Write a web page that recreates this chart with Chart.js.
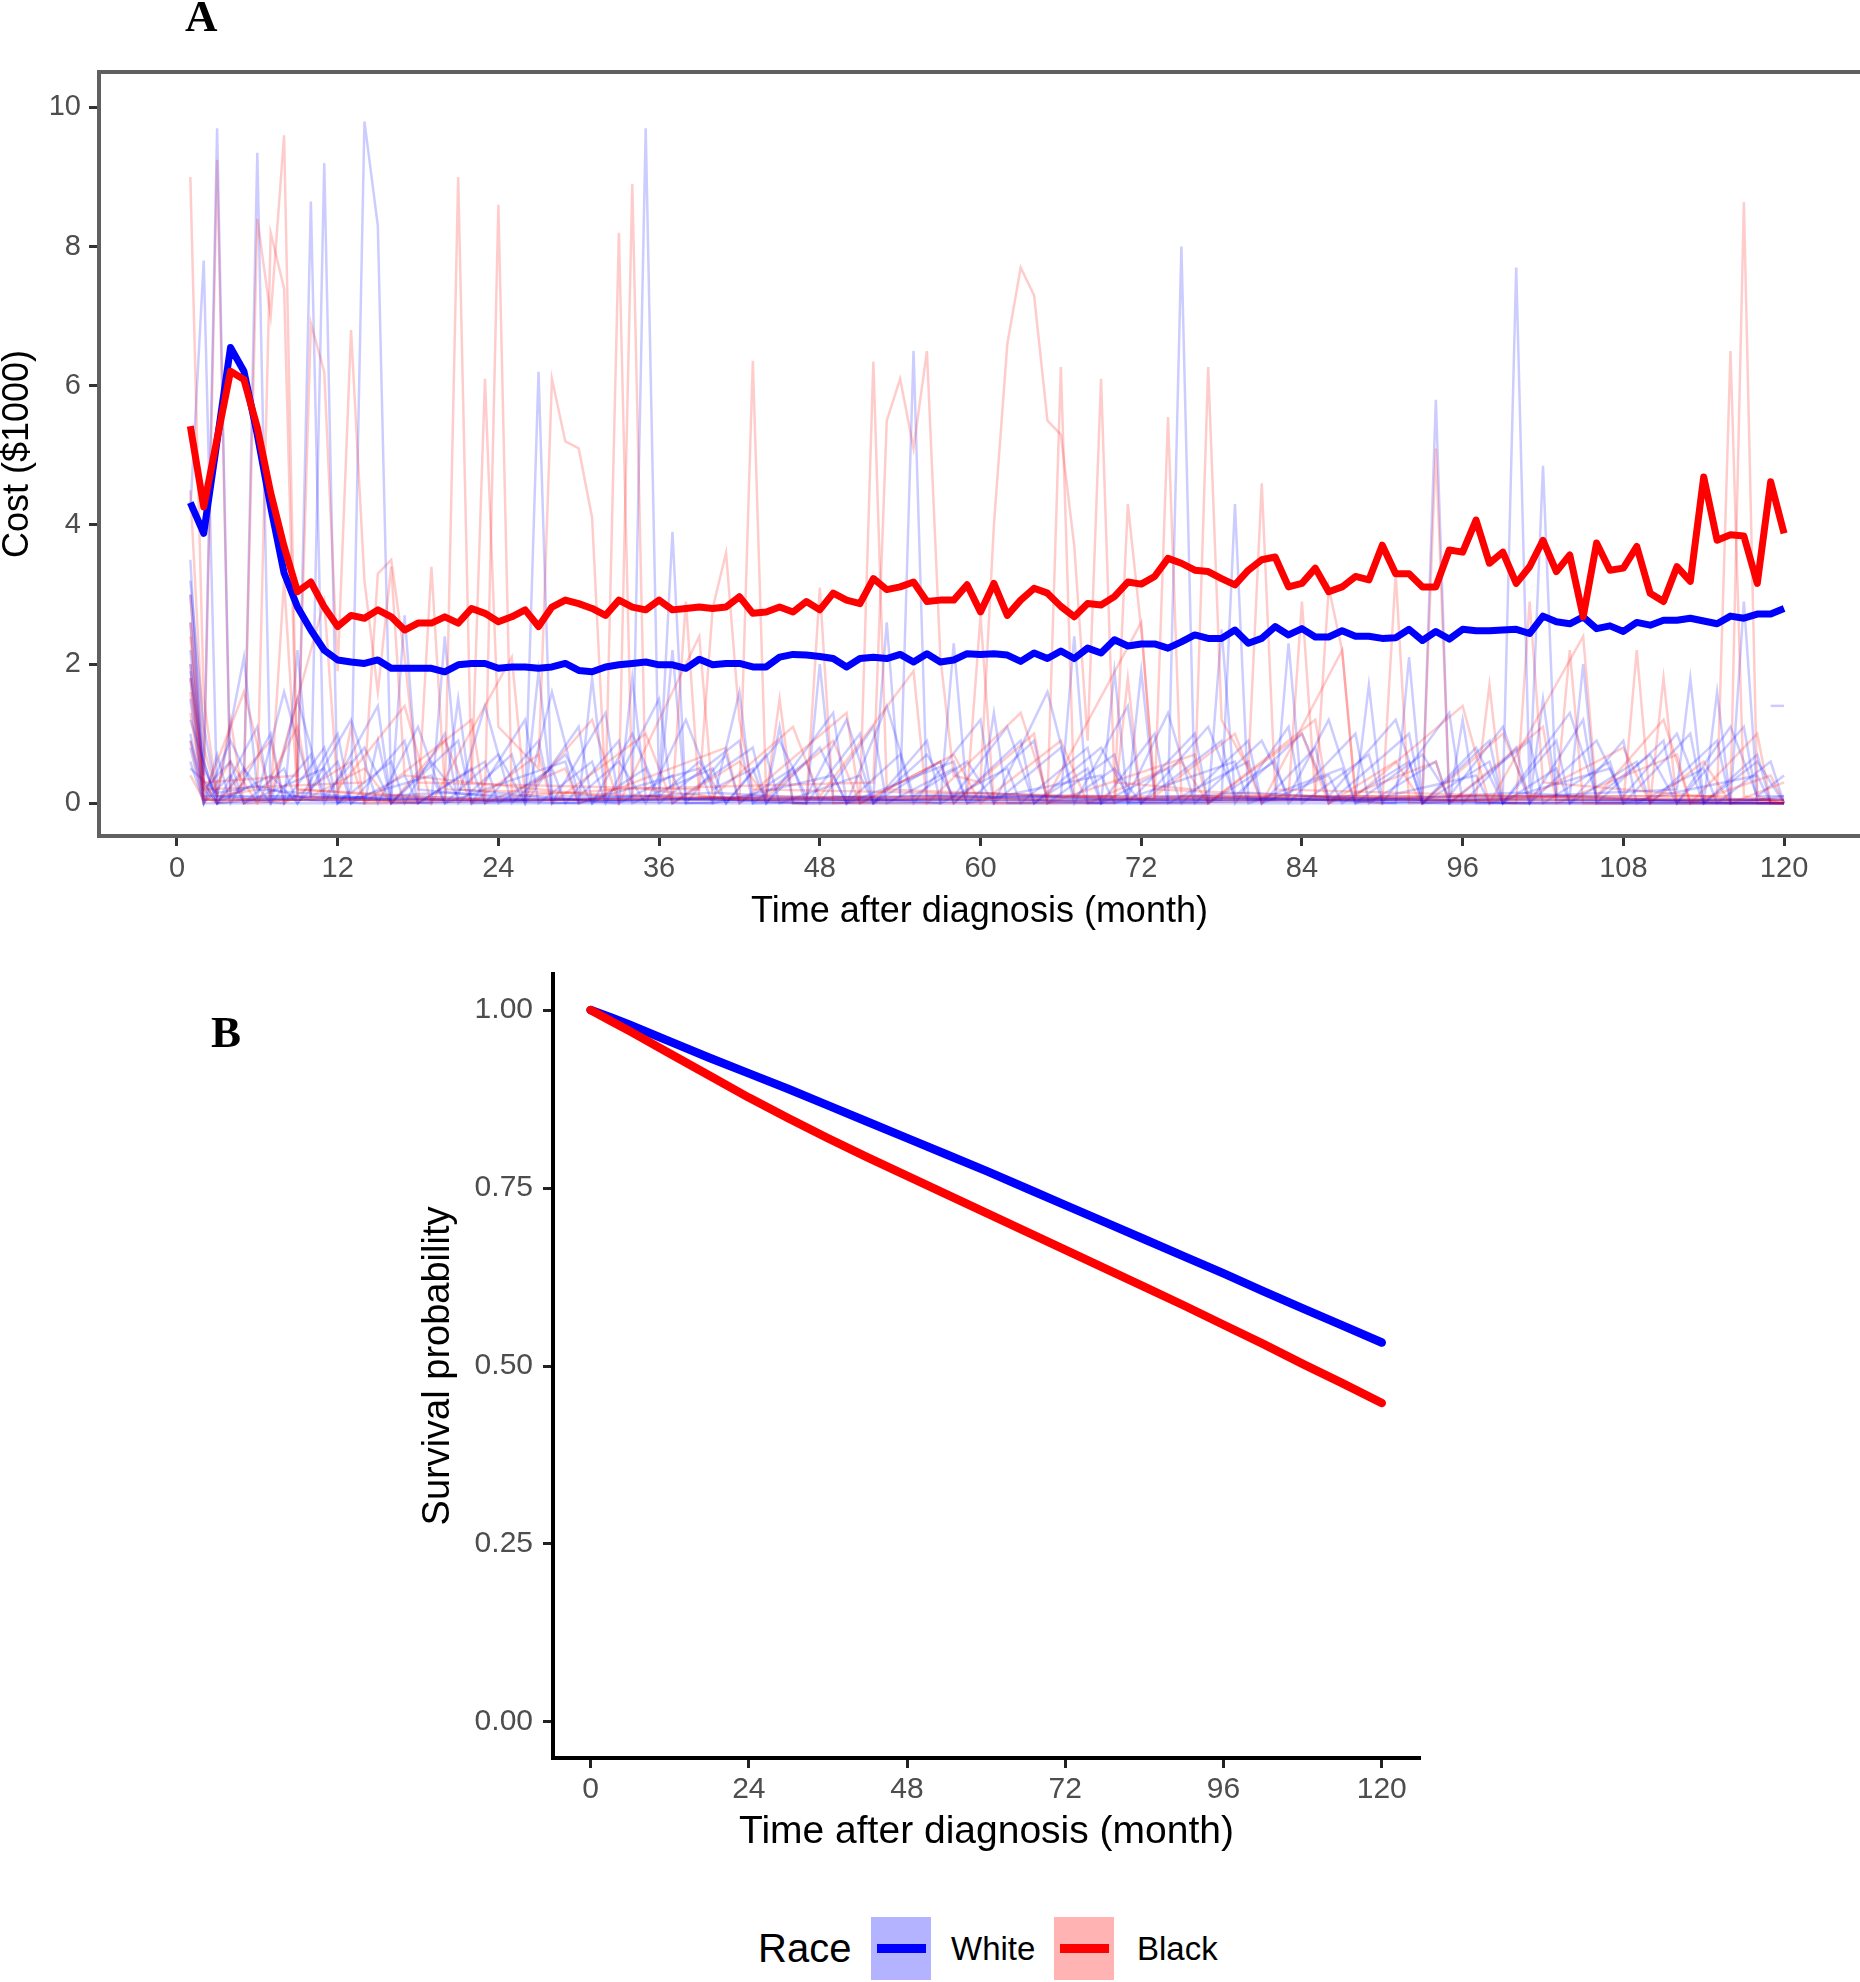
<!DOCTYPE html>
<html><head><meta charset="utf-8">
<script src="https://cdn.jsdelivr.net/npm/chart.js@4"></script>
<style>
html,body{margin:0;padding:0;background:#fff;overflow:hidden;width:1860px;height:1982px;position:relative;}
#cA{position:absolute;left:0;top:0;}
#cB{position:absolute;left:0;top:940px;}
.lbl{position:absolute;font-family:"Liberation Serif","DejaVu Serif",serif;font-weight:bold;font-size:45px;line-height:1;color:#000;}
.leg{position:absolute;font-family:"Liberation Sans",Arial,sans-serif;color:#000;line-height:1;white-space:nowrap;}
.key{position:absolute;width:60px;height:63px;top:1917px;}
.key i{position:absolute;left:6px;width:49px;height:9px;top:27px;}
</style></head><body>
<canvas id="cA" width="1860" height="930"></canvas>
<canvas id="cB" width="1860" height="912"></canvas>
<div class="lbl" style="left:185px;top:-6px">A</div>
<div class="lbl" style="left:211px;top:1010px">B</div>
<div class="leg" style="left:758px;top:1928px;font-size:40px">Race</div>
<div class="key" style="left:871px;background:#b3b3ff"><i style="background:#0000ff"></i></div>
<div class="leg" style="left:951px;top:1932px;font-size:33px">White</div>
<div class="key" style="left:1054px;background:#ffb3b3"><i style="background:#ff0000"></i></div>
<div class="leg" style="left:1137px;top:1932px;font-size:33px">Black</div>
<script>
// ---------- Panel A data ----------
const months = [1,2,3,4,5,6,7,8,9,10,11,12,13,14,15,16,17,18,19,20,21,22,23,24,25,26,27,28,29,30,
31,32,33,34,35,36,37,38,39,40,41,42,43,44,45,46,47,48,49,50,51,52,53,54,55,56,57,58,59,60,
61,62,63,64,65,66,67,68,69,70,71,72,73,74,75,76,77,78,79,80,81,82,83,84,85,86,87,88,89,90,
91,92,93,94,95,96,97,98,99,100,101,102,103,104,105,106,107,108,109,110,111,112,113,114,115,116,117,118,119,120];

const whiteMean = [4.32,3.88,5.21,6.55,6.21,5.3,4.26,3.31,2.82,2.49,2.2,2.06,2.03,2.01,2.06,1.94,1.94,1.94,1.94,1.89,1.99,2.01,2.01,1.94,1.96,1.96,1.94,1.96,2.01,1.91,
1.89,1.96,1.99,2.01,2.03,1.99,1.99,1.94,2.07,1.99,2.01,2.01,1.96,1.96,2.1,2.14,2.13,2.11,2.08,1.96,2.08,2.1,2.08,2.14,2.03,2.15,2.03,2.06,2.15,2.14,
2.15,2.13,2.04,2.16,2.08,2.19,2.08,2.23,2.16,2.35,2.26,2.29,2.29,2.23,2.32,2.42,2.37,2.37,2.49,2.3,2.37,2.54,2.42,2.51,2.39,2.39,2.48,2.4,2.4,2.37,
2.38,2.5,2.34,2.47,2.36,2.5,2.48,2.48,2.49,2.5,2.44,2.69,2.61,2.58,2.68,2.51,2.55,2.47,2.6,2.56,2.63,2.63,2.66,2.62,2.58,2.69,2.66,2.72,2.72,2.8];

const blackMean = [5.42,4.26,5.24,6.21,6.09,5.4,4.46,3.69,3.04,3.18,2.82,2.54,2.7,2.66,2.78,2.68,2.49,2.59,2.59,2.68,2.59,2.8,2.73,2.61,2.68,2.78,2.54,2.82,2.92,2.87,
2.8,2.7,2.92,2.82,2.78,2.92,2.78,2.8,2.82,2.8,2.82,2.97,2.73,2.75,2.82,2.75,2.9,2.78,3.02,2.92,2.87,3.23,3.07,3.11,3.18,2.9,2.92,2.92,3.14,2.75,
3.16,2.7,2.92,3.09,3.02,2.83,2.68,2.87,2.85,2.97,3.18,3.15,3.26,3.52,3.45,3.35,3.33,3.23,3.14,3.35,3.5,3.54,3.11,3.16,3.38,3.04,3.11,3.26,3.21,3.71,
3.3,3.3,3.11,3.11,3.64,3.61,4.07,3.45,3.61,3.16,3.4,3.78,3.33,3.57,2.68,3.74,3.35,3.38,3.69,3.02,2.9,3.4,3.19,4.69,3.78,3.86,3.84,3.16,4.62,3.88];

// individual patient trajectories: [month, cost, month, cost, ...]
const white1 = [1,2.2, 2,0.4, 3,9.7, 4,0.1, 14,0, 15,0.9, 16,0, 26,0.05, 27,6.2, 28,0, 44,0.1, 45,1.1, 46,0, 74,0.05, 75,8.0, 76,0.1, 95,0, 96,1.2, 97,0, 120,0];
const white2 = [1,4.2, 2,7.8, 3,0.05, 5,0.2, 6,9.35, 7,0.1, 20,0.05, 21,1.5, 22,0, 34,0.1, 35,9.7, 36,0.2, 37,3.9, 38,0.05, 60,0.05, 61,1.3, 62,0, 93,0.05, 94,5.8, 95,0, 119,0.05];
const white3 = [1,1.8, 2,0.1, 9,0.1, 10,8.65, 11,0.1, 30,0, 31,1.8, 32,0.05, 54,0.1, 55,6.5, 56,0.1, 78,0.05, 79,4.3, 80,0.05, 99,0.1, 100,7.7, 101,0.2, 102,4.85, 103,0.05, 120,0];
const white4 = [1,3.0, 2,0.6, 3,0, 10,0.1, 11,9.2, 12,0, 13,0.2, 14,9.8, 15,8.3, 16,0.1, 40,0, 42,1.6, 43,0, 66,0.1, 67,2.4, 68,0, 88,0.1, 89,1.7, 90,0, 112,0.2, 113,1.8, 114,0, 120,0];
const white5 = [1,1.2, 3,0, 5,0.5, 7,0, 9,1.5, 11,0.1, 14,0.8, 16,0, 19,0.6, 21,0.1, 23,1.4, 25,0, 29,0.7, 31,0, 34,1.0, 36,0.1, 39,0.6, 41,0, 45,0.9, 47,0.1, 50,1.2, 52,0, 56,0.7, 58,0.1, 62,1.1, 64,0, 69,0.8, 71,0.1, 74,1.3, 76,0, 81,0.9, 83,0.1, 86,1.2, 88,0, 93,0.7, 95,0.1, 99,1.1, 101,0, 106,0.9, 108,0.1, 112,1.0, 114,0, 118,0.6, 120,0];
const white6 = [1,0.8, 2,0, 4,0.9, 6,0.1, 8,1.6, 10,0.2, 13,1.2, 15,0, 18,1.1, 20,0, 24,0.7, 26,0, 28,1.6, 30,0.1, 33,0.6, 35,0, 38,1.2, 40,0.2, 43,0.5, 44,0, 48,0.8, 50,0, 53,1.4, 55,0.1, 59,0.6, 61,0, 65,1.6, 67,0.1, 70,0.5, 72,0, 77,1.1, 79,0.1, 84,1.0, 86,0.1, 91,1.2, 93,0, 97,0.8, 99,0, 104,1.3, 106,0.1, 110,0.7, 112,0, 116,1.1, 118,0.1, 120,0.4];
const white7 = [1,2.6, 2,0.3, 3,0, 7,0.4, 9,0, 12,0.6, 13,0, 17,0.9, 18,0, 22,0.5, 23,0, 27,0.9, 28,0, 32,1.3, 33,0, 37,0.4, 38,0, 41,0.7, 42,0, 46,0.5, 47,0, 51,1.0, 52,0, 57,0.6, 58,0, 63,0.9, 64,0, 68,0.5, 69,0, 73,1.0, 74,0, 80,0.6, 81,0, 85,0.8, 86,0, 92,1.0, 93,0, 98,0.6, 99,0, 103,0.9, 104,0, 109,0.6, 110,0, 115,0.9, 116,0, 120,0.1];
const white8 = [1,3.2, 2,1.1, 3,0.1, 5,2.1, 6,0.2, 16,0.05, 17,2.7, 18,0.2, 26,0.05, 27,1.9, 28,0.1, 36,0.1, 37,2.2, 38,0, 52,0.1, 53,2.6, 54,0.1, 71,0.1, 72,1.9, 73,0.1, 82,0.05, 83,2.3, 84,0.1, 101,0, 102,1.5, 103,0.1, 116,0, 117,2.9, 118,0.1, 120,0.1];
const white9 = [1,0.5, 3,0.15, 6,0.25, 10,0.05, 20,0.15, 30,0.05, 40,0.15, 50,0.05, 60,0.15, 70,0.05, 80,0.15, 90,0.05, 100,0.15, 110,0.05, 120,0.05];
const white10 = [1,1.5, 2,0, 119,0];
const white11 = [1,0.9, 2,0.2, 4,0.6, 5,0, 11,0.5, 12,0, 19,0.4, 20,0, 29,0.6, 30,0, 39,0.5, 40,0, 49,0.4, 50,0, 58,0.6, 59,0, 69,0.4, 70,0, 79,0.6, 80,0, 87,0.5, 88,0, 97,0.4, 98,0, 107,0.5, 108,0, 118,0.4, 119,0];
const white12 = [119,1.4, 120,1.4];
const white13 = [1,3.5, 2,0.2, 3,0, 6,1.1, 7,0, 10,0.7, 11,0, 15,1.4, 16,0, 21,0.9, 22,0, 26,1.2, 27,0, 31,0.6, 32,0, 36,1.5, 37,0, 43,0.8, 44,0, 49,1.3, 50,0, 54,0.7, 55,0, 60,1.2, 61,0, 66,0.8, 67,0, 71,1.4, 72,0, 78,0.9, 79,0, 83,1.1, 84,0, 89,0.7, 90,0, 95,1.3, 96,0, 100,0.8, 101,0, 105,1.2, 106,0, 111,0.9, 112,0, 117,1.1, 118,0, 120,0];
const white14 = [1,2.0, 2,0, 4,0.4, 5,0, 8,0.5, 9,0, 12,1.0, 13,0, 17,0.4, 18,0, 23,0.6, 24,0, 28,0.5, 29,0, 33,0.9, 34,0, 40,0.5, 41,0, 44,0.7, 45,0, 51,0.4, 52,0, 56,0.9, 57,0, 62,0.5, 63,0, 68,0.8, 69,0, 74,0.5, 75,0, 80,0.9, 81,0, 86,0.4, 87,0, 92,0.6, 93,0, 98,0.9, 99,0, 103,0.5, 104,0, 108,0.9, 109,0, 114,0.5, 115,0, 119,0.6, 120,0];
const white15 = [1,1.0, 2,0.05, 40,0.05, 80,0.05, 120,0.05];
const white16 = [1,0.6, 2,0, 3,0.7, 4,0, 7,1.0, 8,0, 11,0.8, 12,0, 16,0.6, 17,0, 20,1.0, 21,0, 25,0.7, 26,0, 30,1.1, 31,0, 35,0.5, 36,0, 42,0.9, 43,0, 47,0.6, 48,0, 52,1.1, 53,0, 58,0.5, 59,0, 64,0.9, 65,0, 70,0.7, 71,0, 76,1.0, 77,0, 82,0.6, 83,0, 88,1.0, 89,0, 94,0.6, 95,0, 101,0.9, 102,0, 107,0.6, 108,0, 113,1.0, 114,0, 118,0.7, 119,0, 120,0];
const white17 = [1,1.9, 2,0.5, 3,0.1, 8,0, 9,2.2, 10,0.1, 19,0, 20,2.4, 21,0.2, 33,0, 34,1.8, 35,0.1, 47,0, 48,2.0, 49,0.1, 57,0, 58,2.3, 59,0.1, 69,0, 70,1.9, 71,0, 77,0, 78,2.5, 79,0.1, 91,0, 92,2.1, 93,0, 104,0.1, 105,2.0, 106,0, 114,0, 115,1.6, 116,0, 120,0];

const black1 = [1,9.0, 2,1.5, 3,0.1, 6,0.2, 7,8.2, 8,7.4, 9,0.2, 20,0.05, 21,9.0, 22,0.3, 32,0.1, 33,8.2, 34,0.1, 51,0.05, 52,6.35, 53,0.2, 73,0.05, 74,5.55, 75,0.1, 116,0.1, 117,8.64, 118,0.1, 120,0];
const black2 = [1,2.0, 2,0.2, 3,9.25, 4,0.1, 5,0.3, 6,8.4, 7,7.0, 8,9.6, 9,0.2, 23,0.05, 24,8.6, 25,0.1, 33,0.2, 34,8.9, 35,0.2, 42,0.05, 43,6.36, 44,0.1, 65,0.05, 66,6.27, 67,0.1, 93,0.1, 94,5.1, 95,0.1, 115,0.1, 116,6.5, 117,0.1, 120,0];
const black3 = [1,1.8, 2,0.3, 9,0.4, 10,6.9, 11,6.2, 12,1.9, 13,6.8, 14,3.2, 15,1.6, 16,3.4, 17,0.4, 22,0.3, 23,6.1, 24,1.1, 27,0.5, 28,6.1, 29,5.2, 30,5.1, 31,4.1, 32,0.2, 52,0.3, 53,5.5, 54,6.1, 55,5.1, 56,6.5, 57,2.1, 58,0.4, 60,0.3, 61,4.0, 62,6.6, 63,7.7, 64,7.3, 65,5.5, 66,5.3, 67,3.7, 68,0.9, 69,6.1, 70,0.3, 76,0.2, 77,6.27, 78,1.2, 80,0.5, 81,4.6, 82,0.2, 120,0];
const black4 = [1,1.3, 2,0.1, 5,1.6, 7,0.1, 11,2.9, 12,0.2, 17,1.4, 19,0, 25,2.1, 26,0.1, 31,1.2, 33,0, 39,2.4, 40,0.1, 46,1.1, 48,0.1, 55,1.9, 56,0, 63,1.3, 65,0.1, 72,2.6, 73,0.1, 79,1.0, 81,0, 87,2.2, 88,0.1, 96,1.4, 98,0, 105,2.4, 106,0.1, 111,1.2, 113,0, 119,0.4, 120,0];
const black5 = [1,0.9, 2,0, 4,0.6, 6,0, 9,1.1, 10,0.1, 14,0.5, 16,0, 20,0.9, 22,0, 27,0.7, 28,0, 35,1.0, 37,0, 42,0.6, 44,0.1, 49,0.9, 51,0, 58,0.7, 60,0, 66,0.9, 68,0, 75,0.6, 77,0, 84,1.0, 86,0, 91,0.6, 93,0, 99,1.0, 101,0.1, 108,0.8, 110,0, 114,0.6, 116,0, 120,0.3];
const black6 = [1,2.6, 2,0.1, 3,0, 7,0.1, 8,3.2, 9,0.1, 18,0, 19,3.4, 20,0.2, 37,0.1, 38,2.9, 39,0.1, 47,0, 48,3.1, 49,0, 59,0.1, 60,2.7, 61,0, 83,0.1, 84,2.9, 85,0.1, 90,0, 91,3.3, 92,0, 103,0.1, 104,2.2, 105,0, 110,0, 111,1.8, 112,0, 120,0];
const black7 = [1,0.4, 2,0.05, 30,0.05, 60,0.1, 90,0.05, 120,0.05];
const black8 = [1,4.5, 2,0.8, 3,0.1, 4,1.2, 5,0, 12,0.1, 13,1.1, 14,0, 44,0.1, 45,1.5, 46,0, 70,0, 71,1.8, 72,0, 97,0.1, 98,1.7, 99,0, 108,0, 109,2.2, 110,0, 120,0];
const black9 = [1,3.0, 2,0.3, 3,0, 7,0.9, 8,0, 13,0.6, 14,0, 22,1.2, 23,0, 29,0.5, 30,0, 41,0.8, 42,0, 50,1.3, 51,0, 57,0.6, 58,0, 64,1.0, 65,0, 76,0.7, 77,0, 85,1.2, 86,0, 94,0.6, 95,0, 102,1.1, 103,0, 112,0.7, 113,0, 118,1.0, 119,0, 120,0];
const black10 = [1,1.6, 2,0.05, 60,0.05, 120,0.05];
const black11 = [1,2.4, 2,0.2, 14,0.3, 15,3.3, 16,3.5, 17,2.1, 18,0.3, 39,0.2, 40,2.8, 41,3.6, 42,1.2, 43,0.2, 70,0.1, 71,4.3, 72,2.5, 73,0.2, 85,0.1, 86,3.1, 87,2.2, 88,0.1, 100,0, 101,2.9, 102,0.3, 120,0];

const xTicksA = [0,12,24,36,48,60,72,84,96,108,120];
const yTicksA = [0,2,4,6,8,10];

// ---------- Panel B data ----------
const survMonths = [0,3,6,12,18,24,30,36,42,48,54,60,66,72,78,84,90,96,102,108,114,120];
const survWhite = [1.0,0.99,0.979,0.956,0.933,0.911,0.889,0.866,0.843,0.82,0.797,0.774,0.75,0.726,0.702,0.678,0.654,0.63,0.605,0.581,0.557,0.533];
const survBlack = [1.0,0.985,0.97,0.939,0.908,0.877,0.848,0.82,0.793,0.767,0.741,0.715,0.689,0.663,0.637,0.611,0.585,0.558,0.531,0.503,0.476,0.448];
const xTicksB = [0,24,48,72,96,120];
const yTicksB = [0,0.25,0.5,0.75,1];
const yLabelsB = ['0.00','0.25','0.50','0.75','1.00'];

// ---------- build ----------
Chart.defaults.font.family = '"Liberation Sans", Arial, sans-serif';
const toPts = a => { const p = []; for (let i = 0; i < a.length; i += 2) p.push({x: a[i], y: a[i+1]}); return p; };
const zipPts = (xs, ys) => xs.map((x, i) => ({x, y: ys[i]}));

const thinW = 'rgba(0,0,255,0.2)', thinB = 'rgba(255,0,0,0.2)';
const thin = (arr, col) => ({data: toPts(arr), borderColor: col, borderWidth: 2.5, pointRadius: 0, tension: 0, fill: false});

const datasetsA = [
  {data: zipPts(months, blackMean), borderColor: '#ff0000', borderWidth: 7, pointRadius: 0, tension: 0, borderJoinStyle: 'round'},
  {data: zipPts(months, whiteMean), borderColor: '#0000ff', borderWidth: 7, pointRadius: 0, tension: 0, borderJoinStyle: 'round'},
  thin(black1, thinB), thin(white1, thinW), thin(black2, thinB), thin(white2, thinW),
  thin(black3, thinB), thin(white3, thinW), thin(black4, thinB), thin(white4, thinW),
  thin(black5, thinB), thin(white5, thinW), thin(black6, thinB), thin(white6, thinW),
  thin(black7, thinB), thin(white7, thinW), thin(black8, thinB), thin(white8, thinW),
  thin(black9, thinB), thin(white9, thinW), thin(black10, thinB), thin(white10, thinW),
  thin(black11, thinB), thin(white11, thinW), thin(white12, thinW), thin(white13, thinW),
  thin(white14, thinW), thin(white15, thinW), thin(white16, thinW), thin(white17, thinW)
];

const topBorder = {
  id: 'topBorder',
  afterDraw(c) {
    const {ctx, chartArea: a} = c;
    ctx.save(); ctx.strokeStyle = '#606060'; ctx.lineWidth = 4;
    ctx.beginPath(); ctx.moveTo(a.left - 2, a.top); ctx.lineTo(a.right, a.top); ctx.stroke(); ctx.restore();
  }
};

const tickFontA = {size: 29};
new Chart(document.getElementById('cA'), {
  type: 'line',
  data: {datasets: datasetsA},
  options: {
    responsive: false, animation: false, events: [],
    layout: {padding: {left: 0, right: 0, top: 72, bottom: 0}},
    plugins: {legend: {display: false}, tooltip: {enabled: false}},
    scales: {
      x: {
        type: 'linear', min: -5.82, max: 125.67,
        afterBuildTicks: s => { s.ticks = xTicksA.map(v => ({value: v})); },
        afterFit: s => { s.height = 94; },
        grid: {display: true, drawOnChartArea: false, drawTicks: true, tickLength: 10, tickColor: '#333', tickWidth: 3},
        border: {display: true, color: '#606060', width: 4},
        ticks: {font: tickFontA, color: '#4d4d4d', padding: 6, maxRotation: 0, autoSkip: false},
        title: {display: true, text: 'Time after diagnosis (month)', color: '#000', font: {size: 36, lineHeight: 1}, padding: 0}
      },
      y: {
        type: 'linear', min: -0.47, max: 10.51,
        afterBuildTicks: s => { s.ticks = yTicksA.map(v => ({value: v})); },
        afterFit: s => { s.width = 99; },
        grid: {display: true, drawOnChartArea: false, drawTicks: true, tickLength: 10, tickColor: '#333', tickWidth: 3},
        border: {display: true, color: '#606060', width: 4},
        ticks: {font: tickFontA, color: '#4d4d4d', padding: 8, autoSkip: false},
        title: {display: true, text: 'Cost ($1000)', color: '#000', font: {size: 36, lineHeight: 1}, padding: 0}
      }
    }
  },
  plugins: [topBorder]
});

new Chart(document.getElementById('cB'), {
  type: 'line',
  data: {datasets: [
    {data: zipPts(survMonths, survBlack), borderColor: '#ff0000', borderWidth: 8.5, pointRadius: 0, tension: 0, borderCapStyle: 'round', borderJoinStyle: 'round'},
    {data: zipPts(survMonths, survWhite), borderColor: '#0000ff', borderWidth: 8.5, pointRadius: 0, tension: 0, borderCapStyle: 'round', borderJoinStyle: 'round'}
  ]},
  options: {
    responsive: false, animation: false, events: [],
    layout: {padding: {left: 420, right: 440, top: 34, bottom: 0}},
    plugins: {legend: {display: false}, tooltip: {enabled: false}},
    scales: {
      x: {
        type: 'linear', min: -5.7, max: 125.8,
        afterBuildTicks: s => { s.ticks = xTicksB.map(v => ({value: v})); },
        afterFit: s => { s.height = 94; },
        grid: {display: true, drawOnChartArea: false, drawTicks: true, tickLength: 10, tickColor: '#222', tickWidth: 3},
        border: {display: true, color: '#000', width: 4},
        ticks: {font: {size: 30}, color: '#4d4d4d', padding: 4, maxRotation: 0, autoSkip: false},
        title: {display: true, text: 'Time after diagnosis (month)', color: '#000', font: {size: 39, lineHeight: 1}, padding: 0}
      },
      y: {
        type: 'linear', min: -0.0506, max: 1.0506,
        afterBuildTicks: s => { s.ticks = yTicksB.map(v => ({value: v})); },
        afterFit: s => { s.width = 133; },
        grid: {display: true, drawOnChartArea: false, drawTicks: true, tickLength: 10, tickColor: '#222', tickWidth: 3},
        border: {display: true, color: '#000', width: 4},
        ticks: {font: {size: 30}, color: '#4d4d4d', padding: 10, autoSkip: false,
          callback: v => { const i = yTicksB.indexOf(v); return i >= 0 ? yLabelsB[i] : ''; }},
        title: {display: true, text: 'Survival probability', color: '#000', font: {size: 38, lineHeight: 1}, padding: 0}
      }
    }
  }
});
</script>
</body></html>
